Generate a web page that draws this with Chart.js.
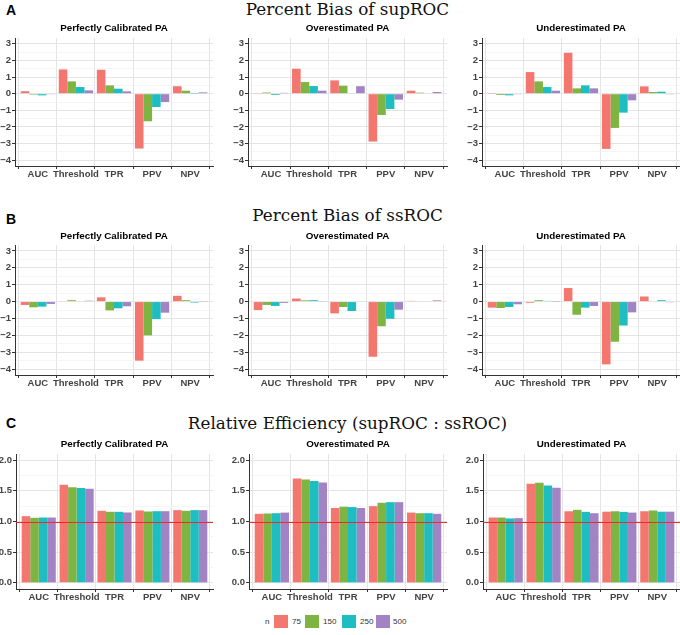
<!DOCTYPE html>
<html><head><meta charset="utf-8">
<script src="https://cdn.jsdelivr.net/npm/chart.js@4.4.0/dist/chart.umd.min.js"></script>
<style>
body{margin:0;width:680px;height:635px;overflow:hidden;background:#fff;position:relative;font-family:"Liberation Sans",Arial,sans-serif}
.abs{position:absolute;white-space:nowrap;line-height:1}
.letter{font-weight:bold;font-size:14px;color:#000;transform:translate(0,-50%)}
.title{font-family:"DejaVu Serif",serif;font-size:16.8px;color:#111;transform:translate(-50%,-50%)}
.sub{font-weight:bold;font-size:9.8px;color:#000;transform:translate(-50%,-50%)}
.leg{font-size:8px;color:#333;transform:translate(0,-50%)}
.key{position:absolute;width:14px;height:13px}
canvas{position:absolute}
</style></head><body>
<div id="root"></div>
<script>
// ---------- data ----------
const categories = ['AUC','Threshold','TPR','PPV','NPV'];
const sampleSizes = ['75','150','250','500'];
const scenarios = ['Perfectly Calibrated PA','Overestimated PA','Underestimated PA'];
const sectionTitles = ['Percent Bias of supROC','Percent Bias of ssROC','Relative Efficiency (supROC : ssROC)'];
const sectionLetters = ['A','B','C'];
const biasTicks = [3,2,1,0,-1,-2,-3,-4];
const effTicks = [0,0.5,1,1.5,2];
const seriesColors = ['#F3776F','#7DB442','#1DBDC2','#A283C4'];
const refLineColor = '#EE2A2A';

// rows = n (75,150,250,500), columns = categories
const supROC_perfect = [
  [0.15, 1.46, 1.44, -3.30, 0.45],
  [-0.06, 0.74, 0.50, -1.66, 0.18],
  [-0.10, 0.40, 0.30, -0.80, 0.01],
  [-0.04, 0.20, 0.14, -0.50, 0.08]
];
const supROC_over = [
  [0.02, 1.50, 0.80, -2.88, 0.18],
  [0.07, 0.70, 0.48, -1.28, 0.06],
  [-0.08, 0.46, 0.03, -0.92, 0.03],
  [0.05, 0.18, 0.45, -0.36, 0.10]
];
const supROC_under = [
  [0.01, 1.30, 2.46, -3.32, 0.44],
  [-0.08, 0.74, 0.32, -2.06, 0.10],
  [-0.10, 0.40, 0.50, -1.14, 0.12],
  [-0.02, 0.18, 0.32, -0.40, -0.02]
];
const ssROC_perfect = [
  [-0.20, 0.00, 0.25, -3.50, 0.34],
  [-0.34, 0.08, -0.52, -2.00, 0.08],
  [-0.30, 0.03, -0.40, -1.04, -0.06],
  [-0.14, 0.05, -0.28, -0.66, 0.02]
];
const ssROC_over = [
  [-0.50, 0.18, -0.70, -3.27, 0.04],
  [-0.20, 0.07, -0.32, -1.46, 0.00],
  [-0.26, 0.08, -0.56, -1.02, -0.03],
  [-0.08, 0.02, 0.00, -0.48, 0.07]
];
const ssROC_under = [
  [-0.36, -0.07, 0.80, -3.72, 0.30],
  [-0.38, 0.08, -0.78, -2.38, 0.03],
  [-0.32, 0.04, -0.36, -1.42, 0.08],
  [-0.16, 0.01, -0.26, -0.64, -0.04]
];
const relEff_perfect = [
  [1.087, 1.600, 1.174, 1.180, 1.185],
  [1.060, 1.560, 1.158, 1.163, 1.174],
  [1.065, 1.545, 1.158, 1.168, 1.185],
  [1.065, 1.535, 1.147, 1.168, 1.185]
];
const relEff_over = [
  [1.125, 1.700, 1.220, 1.250, 1.145],
  [1.130, 1.685, 1.240, 1.305, 1.135],
  [1.135, 1.660, 1.235, 1.315, 1.135],
  [1.145, 1.635, 1.220, 1.315, 1.125]
];
const relEff_under = [
  [1.065, 1.615, 1.167, 1.160, 1.167],
  [1.065, 1.630, 1.190, 1.167, 1.180],
  [1.050, 1.585, 1.157, 1.157, 1.160],
  [1.055, 1.550, 1.135, 1.145, 1.160]
];
const referenceLine = 1.0;

// ---------- layout ----------
const root = document.getElementById('root');
function addText(cls, txt, left, top){
  const d = document.createElement('div');
  d.className = 'abs ' + cls; d.textContent = txt;
  d.style.left = left + 'px'; d.style.top = top + 'px';
  root.appendChild(d); return d;
}
const XH = 16, PADT = 8, PADR = 2;
const rows = [
  {top:38, bottom:166, kind:'bias', yw:16, data:[supROC_perfect,supROC_over,supROC_under], lefts:[15,248,482], rights:[213,447,680], titleY:9, letterY:10, subY:28},
  {top:245, bottom:375, kind:'bias', yw:16, data:[ssROC_perfect,ssROC_over,ssROC_under], lefts:[15,248,482], rights:[213,447,680], titleY:214.5, letterY:218.5, subY:236},
  {top:454, bottom:589, kind:'eff', yw:22, data:[relEff_perfect,relEff_over,relEff_under], lefts:[16,249,483], rights:[213,447,680], titleY:422.5, letterY:422.5, subY:443.5}
];

const tickFont = {family:'"Liberation Sans", Arial, sans-serif', size:9.5, weight:'bold'};
function isMajor(v, step){ return Math.abs(v/step - Math.round(v/step)) < 1e-6; }

// plugin drawing the horizontal reference line at the y scale's pixel for referenceLine
const refLinePlugin = {
  id:'refLine',
  afterDatasetsDraw(chart){
    if (!chart.$refLine) return;
    const {ctx, chartArea, scales} = chart;
    const y = Math.round(scales.y.getPixelForValue(referenceLine)) + 0.5;
    ctx.save();
    ctx.strokeStyle = refLineColor; ctx.lineWidth = 1.2;
    ctx.beginPath(); ctx.moveTo(chartArea.left, y); ctx.lineTo(chartArea.right, y); ctx.stroke();
    ctx.restore();
  }
};

function makePanel(row, col){
  const kind = row.kind, YW = row.yw;
  const values = row.data[col];
  const left = row.lefts[col], right = row.rights[col];
  const cv = document.createElement('canvas');
  const w = (right-left) + YW + PADR, h = (row.bottom-row.top) + PADT + XH;
  cv.width = w; cv.height = h;
  cv.style.left = (left - YW) + 'px'; cv.style.top = (row.top - PADT) + 'px';
  cv.style.width = w + 'px'; cv.style.height = h + 'px';
  root.appendChild(cv);

  const step = kind === 'bias' ? 1 : 0.5;
  const majors = kind === 'bias' ? biasTicks : effTicks;
  const yMin = kind === 'bias' ? -4.35 : -0.1;
  const yMax = kind === 'bias' ? 3.35 : 2.1;
  const lo = Math.min(...majors), hi = Math.max(...majors);
  const allTicks = [];
  for (let v = lo; v <= hi + 1e-9; v += step/2) allTicks.push(Math.round(v*1000)/1000);

  const datasets = sampleSizes.map((n,k)=>({
    label:n,
    data: values[k].map((v,i)=>({x:i+1, y:v})),
    backgroundColor: seriesColors[k], borderWidth:0,
    categoryPercentage:0.9, barPercentage:1.0
  }));
  const chart = new Chart(cv, {
    type:'bar',
    data:{datasets},
    plugins:[refLinePlugin],
    options:{
      responsive:false, animation:false, devicePixelRatio:1,
      layout:{padding:{top:PADT, right:PADR, left:0, bottom:0}},
      plugins:{legend:{display:false}, tooltip:{enabled:false}},
      scales:{
        x:{type:'linear', min:0.4, max:5.6, offset:false,
          afterBuildTicks:s=>{ s.ticks = categories.map((c,i)=>({value:i+1})); },
          afterFit:s=>{ s.height = XH; },
          ticks:{callback:v=>categories[Math.round(v)-1] || '', font:tickFont, color:'#444', padding:0, maxRotation:0, autoSkip:false},
          grid:{color:'#e4e4e4', lineWidth:1, tickLength:3, tickColor:'#333'},
          border:{display:true, color:'#333', width:1}
        },
        y:{type:'linear', min:yMin, max:yMax,
          afterBuildTicks:s=>{ s.ticks = allTicks.map(v=>({value:v})); },
          afterFit:s=>{ s.width = YW; },
          ticks:{font:tickFont, color:'#444', padding:1, autoSkip:false,
            callback:v=>{
              if (!isMajor(v, step)) return '';
              if (kind === 'eff') return v.toFixed(1);
              return v < 0 ? '\u2212' + Math.abs(v) : String(v);
            }},
          grid:{
            color:ctx=> isMajor(ctx.tick.value, step) ? '#e4e4e4' : '#f1f1f1',
            lineWidth:ctx=> isMajor(ctx.tick.value, step) ? 1 : 0.7,
            tickColor:ctx=> isMajor(ctx.tick.value, step) ? '#333' : 'rgba(0,0,0,0)',
            tickLength:3},
          border:{display:true, color:'#333', width:1}
        }
      }
    }
  });
  if (kind === 'eff') { chart.$refLine = true; chart.draw(); }
  addText('sub', scenarios[col], (left+right)/2, row.subY);
}

rows.forEach((row, r)=>{
  addText('letter', sectionLetters[r], 6, row.letterY);
  addText('title', sectionTitles[r], 347.5, row.titleY);
  for (let c=0;c<3;c++) makePanel(row, c);
});

// legend
addText('leg', 'n', 265, 622);
const legKeys = [274, 305, 342, 376];
const legLabels = [292, 323, 360, 393];
sampleSizes.forEach((n,k)=>{
  const b = document.createElement('div');
  b.className = 'key'; b.style.left = legKeys[k] + 'px'; b.style.top = '615px';
  b.style.background = seriesColors[k]; root.appendChild(b);
  addText('leg', n, legLabels[k], 622);
});
</script>
</body></html>
